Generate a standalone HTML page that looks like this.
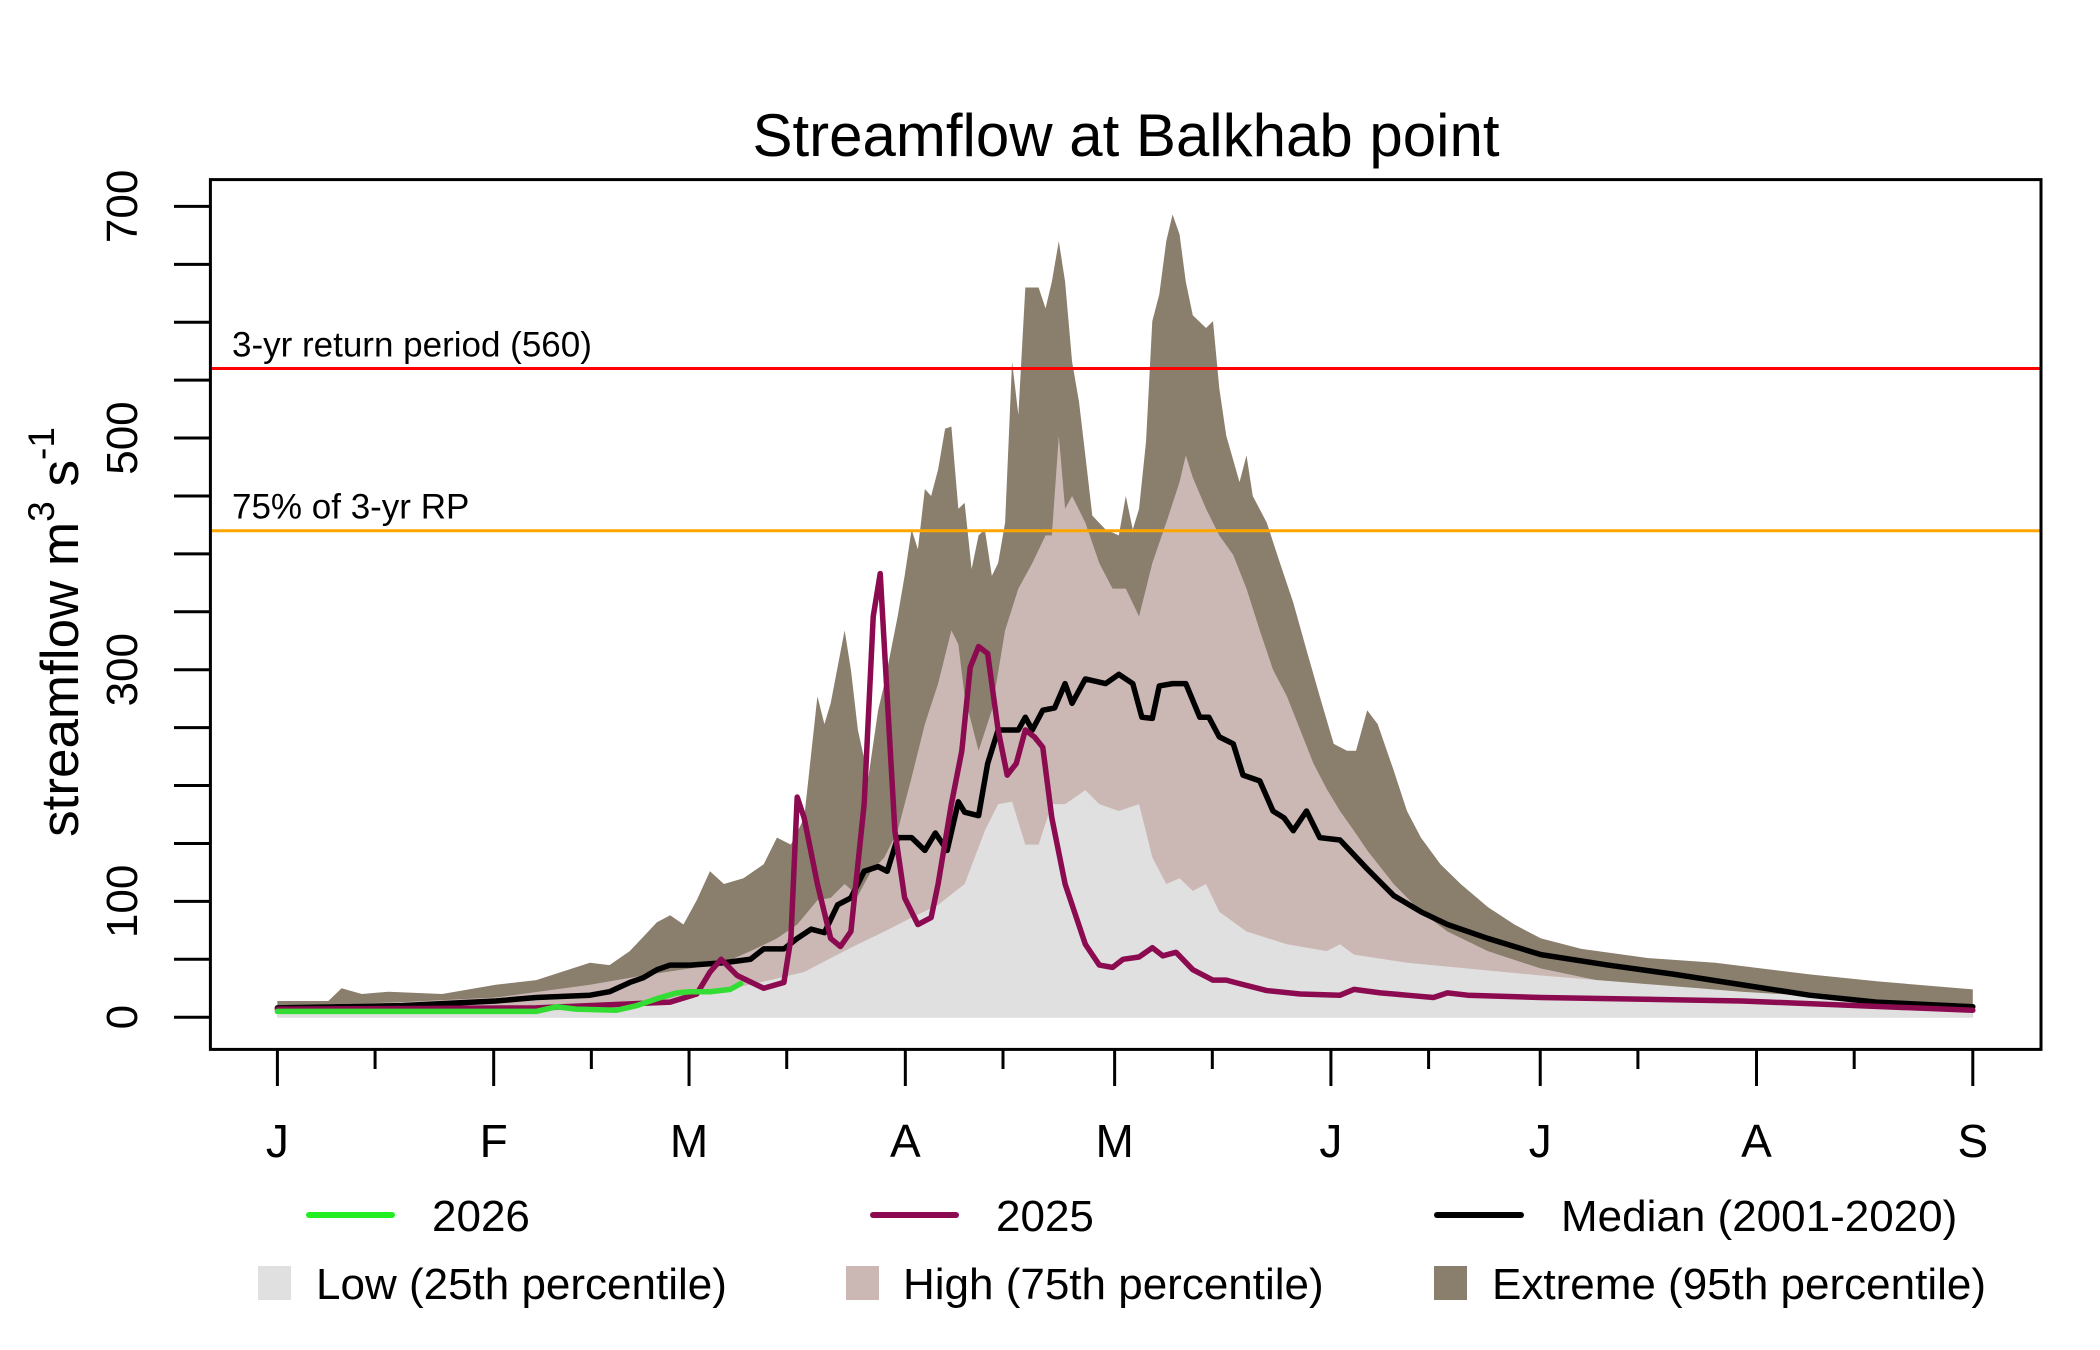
<!DOCTYPE html>
<html><head><meta charset="utf-8"><style>
html,body{margin:0;padding:0;background:#fff;}
svg{display:block;font-family:"Liberation Sans",sans-serif;}
</style></head><body>
<svg id="chart" width="2100" height="1350" viewBox="0 0 2100 1350" xmlns="http://www.w3.org/2000/svg">
<rect x="0" y="0" width="2100" height="1350" fill="#fff"/>
<text x="1126" y="156" font-size="60" text-anchor="middle" fill="#000">Streamflow at Balkhab point</text>
<g id="plot"></g>
<g id="axes"></g>
<text transform="translate(78,632) rotate(-90)" font-size="53" text-anchor="middle" fill="#000">streamflow m<tspan font-size="37" dy="-24">3</tspan><tspan dy="24"> s</tspan><tspan font-size="37" dy="-24">-1</tspan></text>
<g id="legend">
  <line x1="309" y1="1215" x2="392" y2="1215" stroke="#22ee22" stroke-width="6" stroke-linecap="round"/>
  <text x="432" y="1231" font-size="44">2026</text>
  <line x1="873" y1="1215" x2="956" y2="1215" stroke="#8b0a50" stroke-width="6" stroke-linecap="round"/>
  <text x="996" y="1231" font-size="44">2025</text>
  <line x1="1437" y1="1215" x2="1521" y2="1215" stroke="#000" stroke-width="6" stroke-linecap="round"/>
  <text x="1561" y="1231" font-size="44">Median (2001-2020)</text>
  <rect x="258" y="1266" width="33" height="34" fill="#e0e0e0"/>
  <text x="316" y="1299" font-size="44">Low (25th percentile)</text>
  <rect x="846" y="1266" width="33" height="34" fill="#cbb8b5"/>
  <text x="903" y="1299" font-size="44">High (75th percentile)</text>
  <rect x="1434" y="1266" width="33" height="34" fill="#8a7e6c"/>
  <text x="1492" y="1299" font-size="44">Extreme (95th percentile)</text>
</g>
</svg>
<script>
const extDays=[0,7.3,9.2,12.1,15.9,23.6,31.3,37.1,44.8,47.6,50.5,54.4,56.3,58.2,60.1,62.0,64.0,66.8,69.7,71.6,73.6,75.5,77.4,78.4,79.3,81.3,82.2,83.2,84.7,86.1,87.0,88.9,89.9,90.9,91.8,92.8,93.7,94.7,95.7,96.6,97.6,98.5,99.5,100.5,101.4,102.4,103.3,104.3,105.3,106.2,107.2,109.1,110.1,111.0,112.0,112.9,113.9,114.9,115.8,116.8,118.7,120.6,121.6,122.6,123.5,124.5,125.4,126.4,127.4,128.3,129.3,130.2,131.2,133.1,134.1,135.0,136.0,137.9,138.9,139.8,141.8,143.7,145.6,147.5,149.4,151.4,153.3,154.6,156.2,157.7,160.0,161.9,163.9,166.7,169.6,173.5,177.3,181.1,186.9,196.5,206.1,219.6,229.2,243];
const extVals=[14,14,25,20,22,20,28,32,47,45,57,82,88,80,101,126,115,120,132,155,149,172,277,253,271,334,300,248,207,265,288,346,381,421,404,456,450,473,508,510,439,444,387,416,421,381,392,427,566,520,630,630,612,635,670,635,566,531,485,433,421,416,450,421,439,497,601,624,670,693,676,635,606,595,601,543,502,462,485,450,427,392,358,317,277,236,230,230,265,253,213,178,155,132,115,95,80,68,59,51,47,37,31,24];
const highDays=[0,17.9,31.3,44.8,52.4,60.1,64.0,67.8,71.6,74.5,77.4,79.3,81.3,83.2,85.1,87.0,88.9,90.9,92.8,94.7,96.6,97.6,98.5,100.5,102.4,104.3,106.2,108.2,110.1,111.0,112.0,112.9,113.9,115.8,117.8,119.7,121.6,123.5,125.4,127.4,129.3,130.2,131.2,133.1,135.0,137.0,138.9,140.8,142.7,144.7,146.6,148.5,150.4,152.3,154.3,156.2,160.0,163.9,167.7,173.5,181.1,190.7,209.9,229.2,243];
const highVals=[10,13,17,28,36,43,47,57,68,80,101,103,115,105,126,138,161,207,253,288,334,322,277,230,265,334,370,392,416,416,502,439,450,427,392,370,370,346,392,427,462,485,466,439,416,399,370,334,300,277,248,219,197,178,161,144,115,91,74,57,42,30,17,10,6];
const lowDays=[0,37.1,52.4,60.1,67.8,75.5,79.3,83.2,87.0,90.9,94.7,98.5,101.4,103.3,105.3,107.2,109.1,111.0,112.9,115.8,117.8,120.6,123.5,125.4,127.4,129.3,131.2,133.1,135.0,138.9,144.7,150.4,152.3,154.3,161.9,181.1,209.9,243];
const lowVals=[3,5,10,20,28,39,51,63,74,86,97,115,161,184,186,149,149,184,184,196,184,178,184,138,115,120,109,115,91,74,63,57,63,54,47,36,22,10];
const medDays=[0,17.9,31.3,37.1,44.8,47.6,50.5,52.4,54.4,56.3,59.2,64.0,67.8,69.7,72.6,74.5,76.5,78.4,80.3,82.2,84.1,86.1,87.4,88.9,90.9,92.8,94.3,96.0,97.6,98.5,100.5,101.8,103.3,106.2,107.2,108.2,109.7,111.4,112.9,113.9,115.8,118.7,120.6,122.6,123.9,125.4,126.4,128.3,130.2,132.2,133.5,135.0,137.0,138.4,140.8,142.7,144.3,145.6,147.5,149.4,152.3,156.2,160.0,163.9,167.7,173.5,181.1,190.7,200.3,209.9,219.6,229.2,243];
const medVals=[8,10,14,17,19,22,30,34,41,45,45,47,50,59,59,68,76,73,97,103,126,130,126,155,155,144,159,144,186,177,174,219,248,248,259,248,265,267,288,271,292,288,296,288,259,258,286,288,288,259,259,242,236,209,204,178,172,161,178,155,153,128,105,91,80,68,54,45,37,28,19,13,9];
const y25Days=[0,37.1,56.3,60.1,62.0,63.6,65.9,69.7,72.6,73.6,74.5,75.5,77.4,79.3,80.7,82.2,84.1,85.4,86.4,87.4,88.5,89.9,91.8,93.7,94.7,96.6,98.1,99.3,100.5,101.8,103.3,104.6,105.9,107.2,108.5,109.7,111.0,112.9,115.8,117.8,119.7,121.2,123.5,125.4,126.9,128.8,131.2,134.1,136.0,137.9,141.8,146.6,152.3,154.3,158.1,161.9,165.7,167.7,170.6,181.1,209.9,243];
const y25Vals=[7,8,13,20,39,50,36,25,30,68,190,172,115,68,61,74,184,346,383,277,161,103,80,86,115,184,230,302,320,314,248,209,219,248,242,233,172,115,63,45,43,50,52,60,53,56,41,32,32,29,23,20,19,24,21,19,17,21,19,17,14,6];
const y26Days=[0,37.1,40.0,42.8,48.6,51.5,54.4,57.2,59.2,62.0,64.9,66.4];
const y26Vals=[5,5,9,7,6,10,16,21,22,22,24,29];
const yTicks=[0,50,100,150,200,250,300,350,400,450,500,550,600,650,700];
const yLabels=[0,100,300,500,700];
const monthDays=[0,31,59,90,120,151,181,212,243];
const monthLabels=["J","F","M","A","M","J","J","A","S"];
const minorDays=[14,45,73,104,134,165,195,226];
const refVals=[560,420];

const NS="http://www.w3.org/2000/svg";
const X0=277.4,X1=1972.8,Y0=1017.2,Y700=206.4;
const L=210.4,R=2041,T=179.6,B=1049.4;
function sx(d){return X0+(X1-X0)*d/243;}
function sy(v){return Y0+(Y700-Y0)*v/700;}
function mk(tag,attrs,parent){const e=document.createElementNS(NS,tag);for(const k in attrs)e.setAttribute(k,attrs[k]);parent.appendChild(e);return e;}
const plot=document.getElementById('plot');
const axes=document.getElementById('axes');
function area(days,vals,fill,name){
  let d=`M${sx(days[0])},${sy(0)}`;
  days.forEach((t,i)=>{d+=`L${sx(t)},${sy(vals[i])}`;});
  d+=`L${sx(days[days.length-1])},${sy(0)}Z`;
  const p=mk('path',{d:d,fill:fill},plot);
  
  
}
function line(days,vals,stroke,w,name){
  const d=days.map((t,i)=>(i?'L':'M')+sx(t)+','+sy(vals[i])).join('');
  const p=mk('path',{d:d,fill:'none',stroke:stroke,'stroke-width':w,'stroke-linejoin':'round','stroke-linecap':'round'},plot);
  
  
}
area(extDays,extVals,'#8a7e6c','extreme-95th-area');
area(highDays,highVals,'#cbb8b5','high-75th-area');
area(lowDays,lowVals,'#e0e0e0','low-25th-area');
const refColors=['#ff0000','#ffa500'];
const refText=['3-yr return period (560)','75% of 3-yr RP'];
refVals.forEach((v,i)=>{
  const l=mk('line',{x1:L,x2:R,y1:sy(v),y2:sy(v),stroke:refColors[i],'stroke-width':3},plot);
  
  
  const t=mk('text',{x:232,y:sy(v)-12,'font-size':35,fill:'#000'},plot);
  t.textContent=refText[i];
  
  
});
line(medDays,medVals,'#000',5.5,'median-line');
line(y25Days,y25Vals,'#8b0a50',5.5,'line-2025');
line(y26Days,y26Vals,'#33dd33',5.5,'line-2026');
const box=mk('rect',{x:L,y:T,width:R-L,height:B-T,fill:'none',stroke:'#000','stroke-width':3},axes);


yTicks.forEach(v=>{
  const t=mk('line',{x1:174,x2:L,y1:sy(v),y2:sy(v),stroke:'#000','stroke-width':3},axes);
  
  
});
yLabels.forEach(v=>{
  const t=mk('text',{transform:`translate(137,${sy(v)}) rotate(-90)`,'font-size':44,'text-anchor':'middle',fill:'#000'},axes);
  t.textContent=v;
  
  
});
monthDays.forEach((d,i)=>{
  const t=mk('line',{x1:sx(d),x2:sx(d),y1:B,y2:1086,stroke:'#000','stroke-width':3},axes);
  
  
  const l=mk('text',{x:sx(d),y:1157,'font-size':46,'text-anchor':'middle',fill:'#000'},axes);
  l.textContent=monthLabels[i];
  
  
});
minorDays.forEach(d=>{
  const t=mk('line',{x1:sx(d),x2:sx(d),y1:B,y2:1069,stroke:'#000','stroke-width':3},axes);
  
  
});
</script>
</body></html>
